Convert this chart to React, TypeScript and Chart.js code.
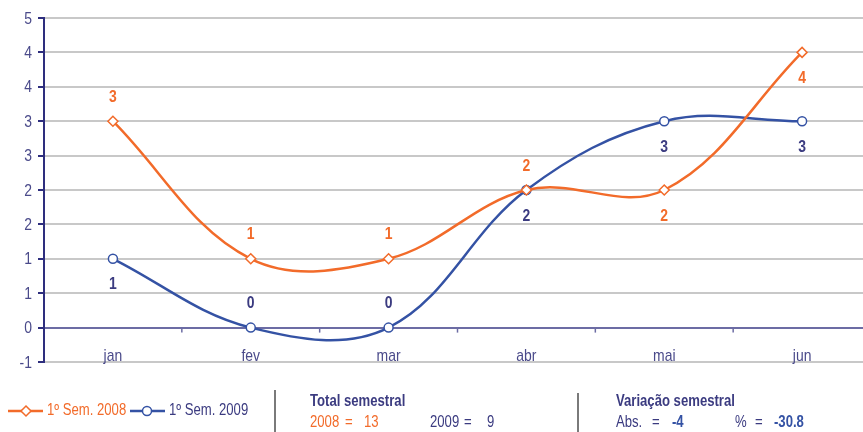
import React, { useEffect, useRef } from 'react';
import { Chart, registerables } from 'chart.js';

Chart.register(...registerables);

const categories = ['jan', 'fev', 'mar', 'abr', 'mai', 'jun'];
const sem2008 = [3, 1, 1, 2, 2, 4];
const sem2009 = [1, 0, 0, 2, 3, 3];
const yTickLabels = ['-1', '0', '1', '1', '2', '2', '3', '3', '4', '4', '5'];
const labelPos2008 = ['above', 'above', 'above', 'above', 'below', 'below'];
const labelPos2009 = ['below', 'above', 'above', 'below', 'below', 'below'];
const seriesNames = ['1º Sem. 2008', '1º Sem. 2009'];
const totalTitle = 'Total semestral';
const totalYears = ['2008', '2009'];
const totalValues = ['13', '9'];
const variationTitle = 'Variação semestral';
const variationLabels = ['Abs.', '%'];
const variationValues = ['-4', '-30.8'];

const ORANGE = '#F26B2A';
const BLUE = '#3452A4';
const NAVY = '#3B3B80';
const AXIS = '#2E2E7E';
const GRID = '#C8C8C8';
const ZERO = '#6C6CA4';
const FONT = '"Liberation Sans", Arial, sans-serif';
const NARROW = 0.82;

function nText(ctx: any, text: string, x: number, y: number, align: string = 'left') {
  ctx.save();
  ctx.translate(x, y);
  ctx.scale(NARROW, 1);
  ctx.textAlign = align;
  ctx.fillText(text, 0, 0);
  ctx.restore();
}

const overlayPlugin = {
  id: 'overlay',
  afterDatasetsDraw(chart: any) {
    const ctx = chart.ctx;
    const x = chart.scales.x;
    const y = chart.scales.y;
    const step = x.getPixelForValue(1) - x.getPixelForValue(0);
    const zeroY = y.getPixelForValue(0);
    ctx.save();
    // tick marks on zero line at category boundaries
    ctx.strokeStyle = ZERO;
    ctx.lineWidth = 1.5;
    for (let i = 0; i < categories.length; i++) {
      const bx = x.getPixelForValue(i) + step / 2;
      ctx.beginPath();
      ctx.moveTo(bx, zeroY);
      ctx.lineTo(bx, zeroY + 5);
      ctx.stroke();
    }
    // y tick labels
    ctx.font = `17px ${FONT}`;
    ctx.fillStyle = '#4A4A8A';
    ctx.textBaseline = 'middle';
    y.ticks.forEach((t: any, i: number) => {
      nText(ctx, yTickLabels[i], 32, y.getPixelForValue(t.value) + 1, 'right');
    });
    // category labels
    ctx.textBaseline = 'alphabetic';
    const baseY = y.getPixelForValue(-0.5) - 1;
    categories.forEach((c, i) => nText(ctx, c, x.getPixelForValue(i), baseY, 'center'));

    // data labels
    ctx.font = `bold 17px ${FONT}`;
    ctx.textBaseline = 'middle';
    const drawLabels = (vals: number[], pos: string[], color: string) => {
      ctx.fillStyle = color;
      vals.forEach((v, i) => {
        const px = x.getPixelForValue(i);
        const py = y.getPixelForValue(v) + (pos[i] === 'above' ? -24 : 26);
        nText(ctx, String(v), px, py, 'center');
      });
    };
    drawLabels(sem2008, labelPos2008, ORANGE);
    drawLabels(sem2009, labelPos2009, NAVY);
    ctx.restore();
  },
  afterDraw(chart: any) {
    const ctx = chart.ctx;
    ctx.save();
    const ly = 411;
    // legend 2008
    ctx.strokeStyle = ORANGE;
    ctx.lineWidth = 2.5;
    ctx.beginPath();
    ctx.moveTo(8, ly);
    ctx.lineTo(43, ly);
    ctx.stroke();
    ctx.fillStyle = '#fff';
    ctx.lineWidth = 1.5;
    ctx.beginPath();
    ctx.moveTo(26, ly - 5);
    ctx.lineTo(31, ly);
    ctx.lineTo(26, ly + 5);
    ctx.lineTo(21, ly);
    ctx.closePath();
    ctx.fill();
    ctx.stroke();
    ctx.font = `16px ${FONT}`;
    ctx.textBaseline = 'middle';
    ctx.fillStyle = ORANGE;
    nText(ctx, seriesNames[0], 47, ly);
    // legend 2009
    ctx.strokeStyle = BLUE;
    ctx.lineWidth = 2.5;
    ctx.beginPath();
    ctx.moveTo(130, ly);
    ctx.lineTo(165, ly);
    ctx.stroke();
    ctx.fillStyle = '#fff';
    ctx.lineWidth = 1.5;
    ctx.beginPath();
    ctx.arc(147, ly, 4.5, 0, Math.PI * 2);
    ctx.fill();
    ctx.stroke();
    ctx.fillStyle = NAVY;
    nText(ctx, seriesNames[1], 169, ly);

    // separators
    ctx.strokeStyle = '#7A7A7A';
    ctx.lineWidth = 2;
    ctx.beginPath();
    ctx.moveTo(275, 390);
    ctx.lineTo(275, 432);
    ctx.moveTo(578, 393);
    ctx.lineTo(578, 432);
    ctx.stroke();

    // totals
    ctx.font = `bold 16px ${FONT}`;
    ctx.fillStyle = NAVY;
    nText(ctx, totalTitle, 310, 402);
    ctx.font = `16px ${FONT}`;
    ctx.fillStyle = ORANGE;
    nText(ctx, totalYears[0], 310, 423);
    nText(ctx, '=', 345, 423);
    nText(ctx, totalValues[0], 364, 423);
    ctx.fillStyle = NAVY;
    nText(ctx, totalYears[1], 430, 423);
    nText(ctx, '=', 464, 423);
    nText(ctx, totalValues[1], 487, 423);

    // variation
    ctx.font = `bold 16px ${FONT}`;
    nText(ctx, variationTitle, 616, 402);
    ctx.font = `16px ${FONT}`;
    nText(ctx, variationLabels[0], 616, 423);
    nText(ctx, '=', 652, 423);
    nText(ctx, variationLabels[1], 735, 423);
    nText(ctx, '=', 755, 423);
    ctx.font = `bold 16px ${FONT}`;
    ctx.fillStyle = BLUE;
    nText(ctx, variationValues[0], 672, 423);
    nText(ctx, variationValues[1], 774, 423);
    ctx.restore();
  },
};

export default function App() {
  const ref = useRef<HTMLCanvasElement>(null);
  useEffect(() => {
    if (!ref.current) return;
    const chart = new Chart(ref.current, {
      type: 'line',
      data: {
        labels: categories,
        datasets: [
          {
            label: seriesNames[0],
            data: sem2008,
            borderColor: ORANGE,
            borderWidth: 2.5,
            backgroundColor: '#fff',
            pointStyle: 'rectRot',
            pointRadius: 5,
            pointBorderWidth: 1.5,
            pointBorderColor: ORANGE,
            pointBackgroundColor: '#fff',
            tension: 0.37,
          },
          {
            label: seriesNames[1],
            data: sem2009,
            borderColor: BLUE,
            borderWidth: 2.5,
            backgroundColor: '#fff',
            pointStyle: 'circle',
            pointRadius: 4.5,
            pointBorderWidth: 1.5,
            pointBorderColor: BLUE,
            pointBackgroundColor: '#fff',
            tension: 0.37,
          },
        ],
      },
      options: {
        responsive: false,
        animation: false,
        layout: { padding: { top: 18, bottom: 70, left: 0, right: 9 } },
        plugins: { legend: { display: false }, tooltip: { enabled: false } },
        scales: {
          x: {
            type: 'category',
            display: false,
            offset: true,
          },
          y: {
            min: -0.5,
            max: 4.5,
            afterFit: (s: any) => {
              s.width = 44;
            },
            border: { display: true, color: AXIS, width: 2 },
            grid: {
              color: (c: any) => (c.tick && c.tick.value === 0 ? ZERO : GRID),
              lineWidth: 2,
              tickColor: AXIS,
              tickLength: 6,
              drawTicks: true,
            },
            ticks: {
              stepSize: 0.5,
              display: false,
            },
          },
        },
      },
      plugins: [overlayPlugin],
    });
    return () => chart.destroy();
  }, []);
  return (
    <div style={{ position: 'absolute', left: 0, top: 0, width: 863, height: 432, overflow: 'hidden', background: '#fff' }}>
      <canvas ref={ref} width={880} height={432} style={{ display: 'block', width: 880, height: 432 }} />
    </div>
  );
}
